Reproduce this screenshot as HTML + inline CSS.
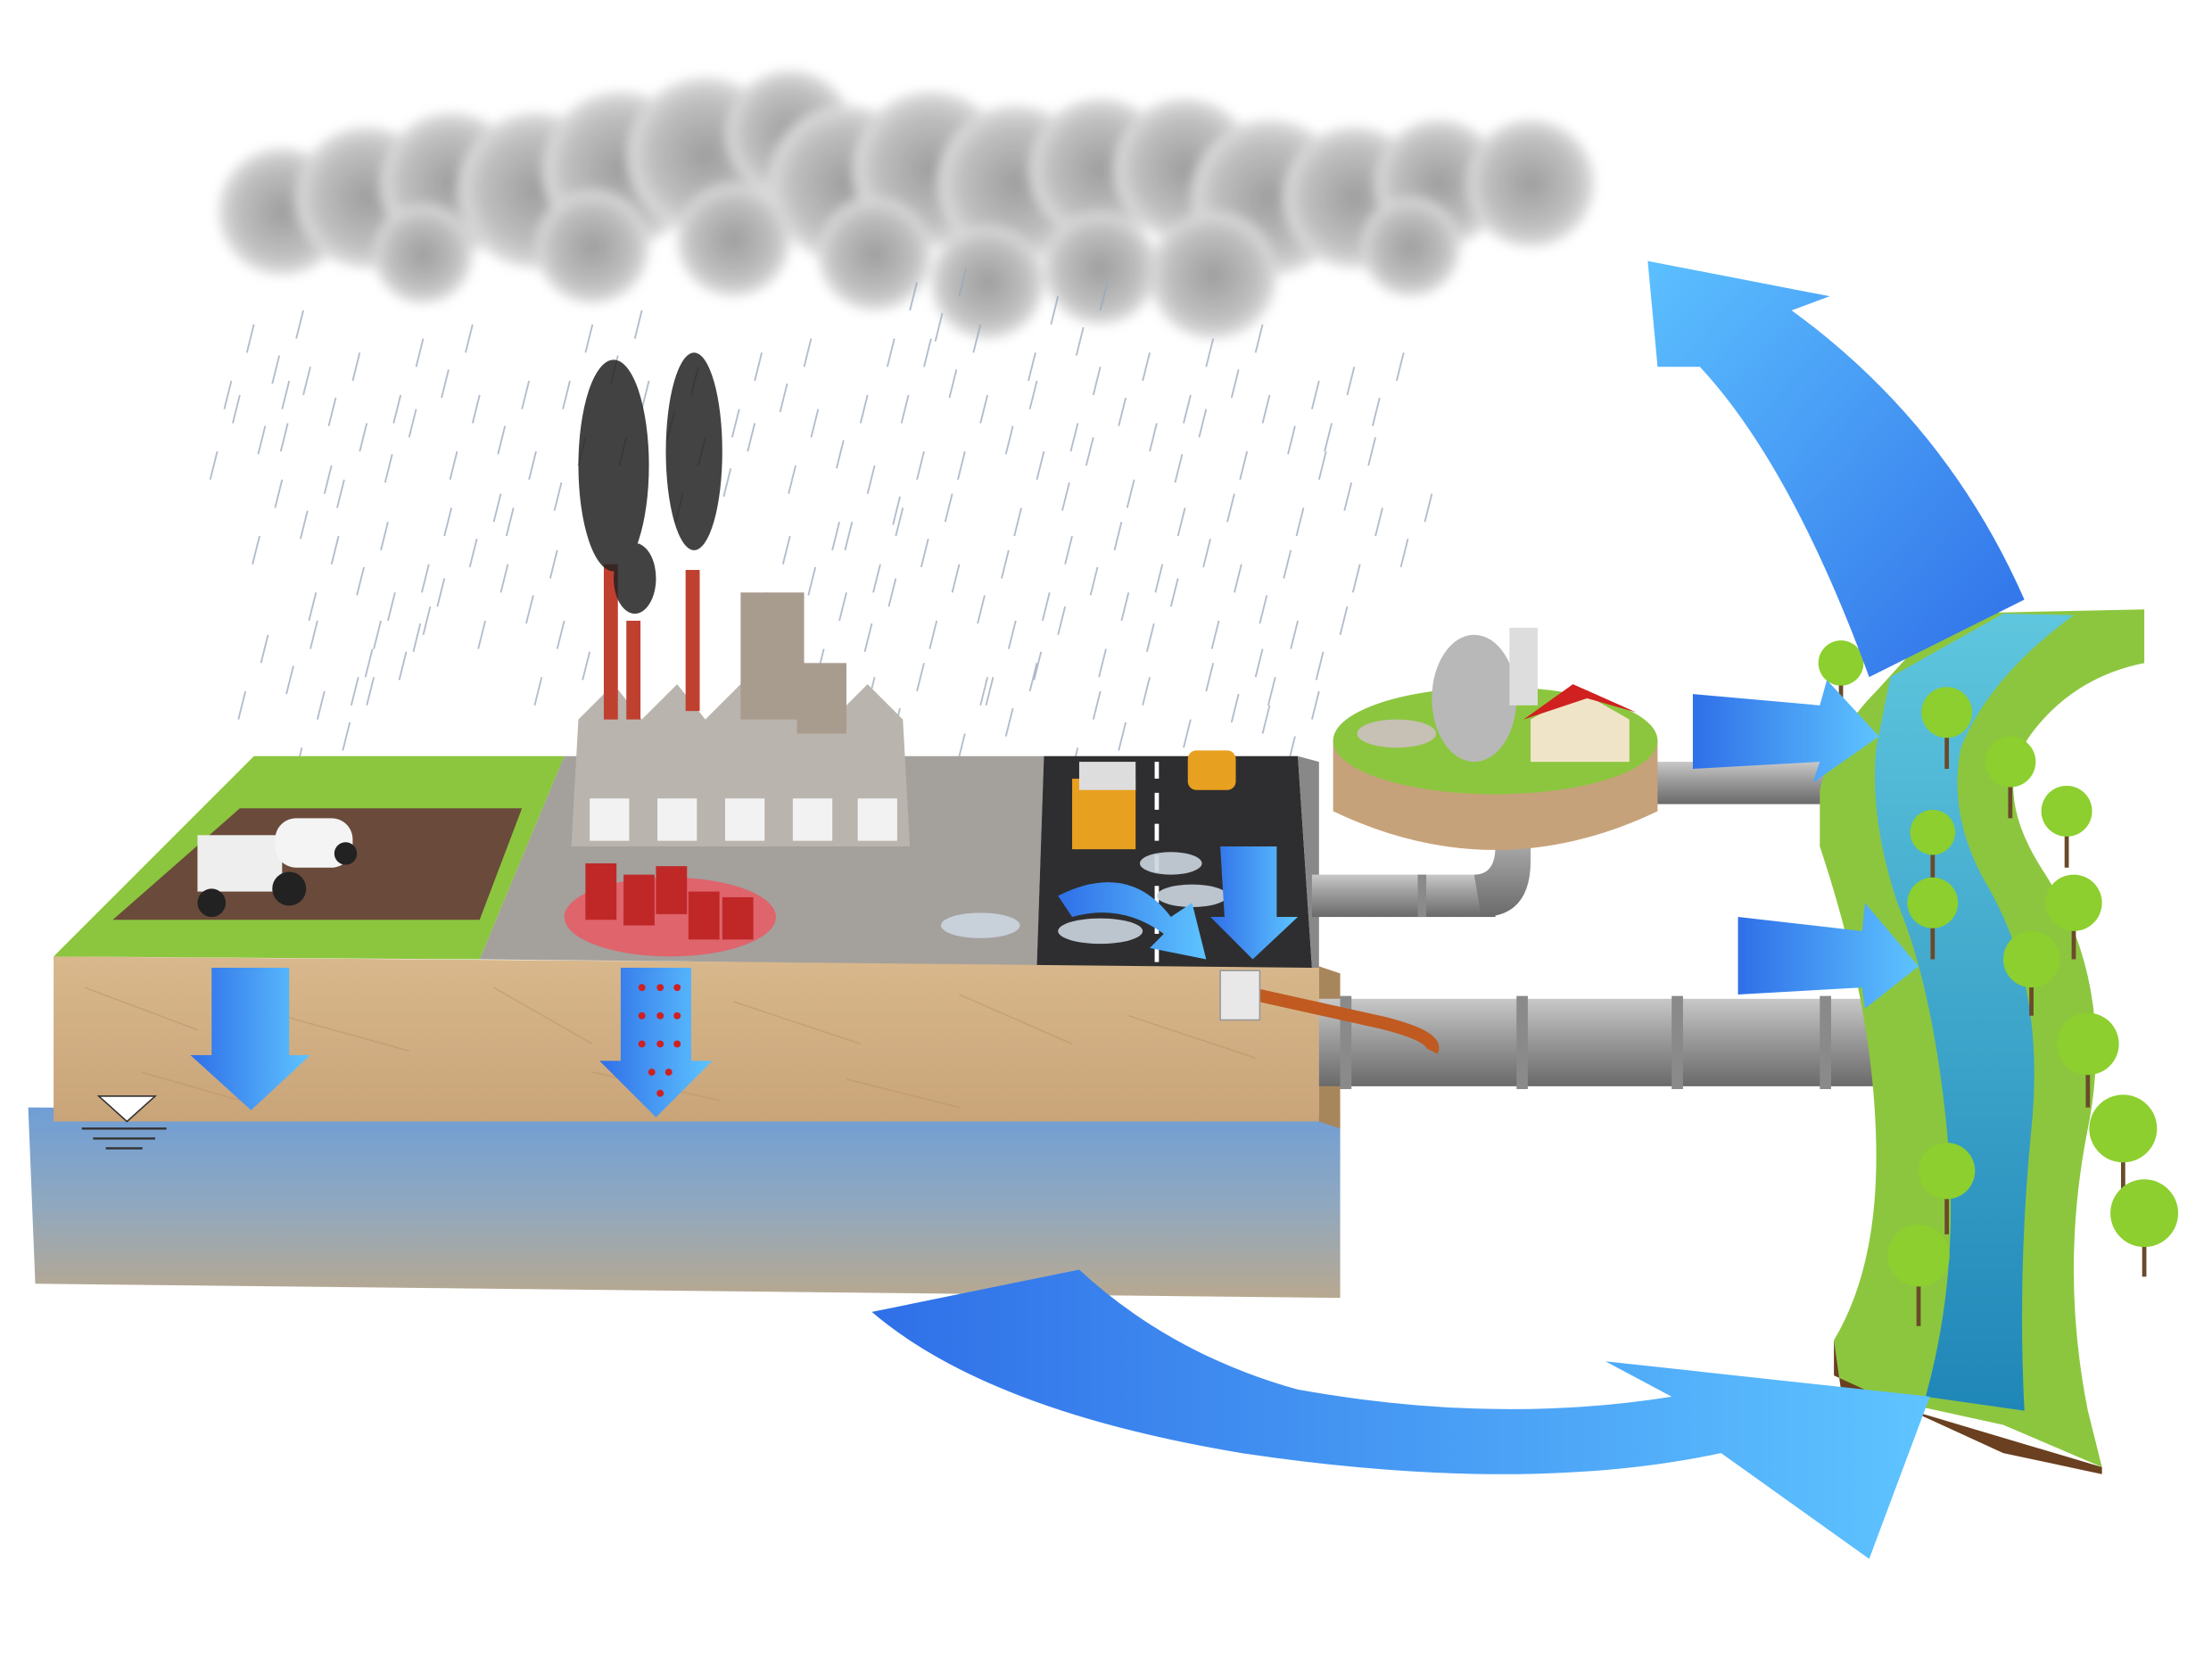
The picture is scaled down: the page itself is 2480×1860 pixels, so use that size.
<!DOCTYPE html>
<html><head><meta charset="utf-8"><style>
html,body{margin:0;padding:0;background:#fff;width:2480px;height:1860px;overflow:hidden}
svg{display:block}
</style></head><body>
<svg width="2480" height="1860" viewBox="0 0 1568 1176" xmlns="http://www.w3.org/2000/svg">
<defs>
<linearGradient id="arr" x1="0" y1="0" x2="1" y2="1"><stop offset="0" stop-color="#5cc0ff"/><stop offset="1" stop-color="#2f6fe8"/></linearGradient>
<linearGradient id="arr2" x1="0" y1="0" x2="1" y2="0"><stop offset="0" stop-color="#2f6fe8"/><stop offset="1" stop-color="#5ec4ff"/></linearGradient>
<linearGradient id="soil" x1="0" y1="0" x2="0" y2="1"><stop offset="0" stop-color="#d8b88c"/><stop offset="1" stop-color="#c9a479"/></linearGradient>
<linearGradient id="water" x1="0" y1="0" x2="0" y2="1"><stop offset="0" stop-color="#6f9ed6"/><stop offset="0.5" stop-color="#8fa8c0"/><stop offset="1" stop-color="#b8a890"/></linearGradient>
<linearGradient id="pipe" x1="0" y1="0" x2="0" y2="1"><stop offset="0" stop-color="#c8c8c8"/><stop offset="0.4" stop-color="#a0a0a0"/><stop offset="1" stop-color="#6a6a6a"/></linearGradient>
<radialGradient id="cl" cx="0.5" cy="0.5" r="0.5"><stop offset="0" stop-color="#8e8e8e"/><stop offset="0.7" stop-color="#b4b4b4"/><stop offset="1" stop-color="#d8d8d8"/></radialGradient>
<linearGradient id="riv" x1="0" y1="0" x2="0" y2="1"><stop offset="0" stop-color="#5fc6de"/><stop offset="1" stop-color="#1f86b8"/></linearGradient>
<filter id="blur"><feGaussianBlur stdDeviation="4"/></filter>
</defs>

<!-- cloud -->
<g fill="url(#cl)" opacity="0.85" filter="url(#blur)">
<circle cx="200" cy="150" r="45"/><circle cx="260" cy="140" r="50"/><circle cx="320" cy="130" r="50"/><circle cx="380" cy="135" r="55"/>
<circle cx="440" cy="120" r="55"/><circle cx="500" cy="110" r="55"/><circle cx="560" cy="95" r="45"/><circle cx="600" cy="130" r="55"/>
<circle cx="660" cy="120" r="55"/><circle cx="720" cy="130" r="55"/><circle cx="780" cy="120" r="50"/><circle cx="840" cy="120" r="50"/>
<circle cx="900" cy="140" r="55"/><circle cx="960" cy="140" r="50"/><circle cx="1020" cy="130" r="45"/><circle cx="1085" cy="130" r="45"/>
<circle cx="700" cy="200" r="40"/><circle cx="860" cy="195" r="45"/><circle cx="780" cy="190" r="40"/><circle cx="620" cy="180" r="40"/>
<circle cx="300" cy="180" r="35"/><circle cx="420" cy="175" r="40"/><circle cx="520" cy="170" r="40"/><circle cx="1000" cy="175" r="35"/>
</g>
<!-- rain -->
<g stroke="#9aa8ba" stroke-width="1.2" opacity="0.75" id="rain">
<path d="M180 230l-5 20M220 260l-5 20M260 300l-5 20M300 240l-5 20M340 280l-5 20M380 320l-5 20M420 230l-5 20M460 270l-5 20M500 310l-5 20M540 250l-5 20M580 290l-5 20M620 330l-5 20M660 240l-5 20M700 280l-5 20M740 320l-5 20M780 260l-5 20M820 300l-5 20M860 240l-5 20M900 280l-5 20M940 320l-5 20M200 340l-5 20M240 380l-5 20M280 420l-5 20M320 360l-5 20M360 400l-5 20M400 440l-5 20M560 380l-5 20M600 420l-5 20M640 360l-5 20M680 400l-5 20M720 440l-5 20M760 380l-5 20M800 420l-5 20M840 360l-5 20M880 400l-5 20M920 440l-5 20M190 450l-5 20M230 490l-5 20M270 440l-5 20M620 480l-5 20M700 480l-5 20M780 490l-5 20M860 470l-5 20M900 500l-5 20M170 280l-5 20M960 260l-5 20M980 360l-5 20M650 200l-5 20M750 210l-5 20"/>
</g>
<use href="#rain" x="18" y="22"/>
<use href="#rain" x="-16" y="40"/>
<use href="#rain" x="35" y="-10"/>

<!-- water layer -->
<path d="M20 785 L950 790 L950 920 L25 910 Z" fill="url(#water)"/>
<!-- soil -->
<path d="M38 678 L935 685 L935 795 L38 795 Z" fill="url(#soil)"/>
<g stroke="#b89468" stroke-width="1" opacity="0.5"><path d="M60 700l80 30M200 720l90 25M350 700l70 40M520 710l90 30M680 705l80 35M800 720l90 30M100 760l70 20M420 760l90 20M600 765l80 20"/></g>
<path d="M935 685 L950 690 L950 800 L935 795Z" fill="#a8865c"/>
<!-- top surfaces -->
<path d="M38 678 L180 536 L400 536 L340 680 Z" fill="#8cc63f"/>
<path d="M80 652 L170 573 L370 573 L340 652 Z" fill="#6a4a3a"/>
<path d="M340 680 L400 536 L740 536 L735 684 Z" fill="#a4a09c"/>
<path d="M735 684 L740 536 L920 536 L930 686 Z" fill="#2e2e30"/>
<path d="M820 540 L820 682" stroke="#fff" stroke-width="3" stroke-dasharray="12 10"/>
<path d="M920 536 L935 540 L935 686 L930 686Z" fill="#888"/>
<!-- factory -->
<path d="M405 600 L410 510 L435 485 L455 510 L480 485 L500 510 L525 485 L545 510 L570 485 L590 510 L615 485 L640 510 L645 600 Z" fill="#b9b4ad"/>
<g fill="#f2f2f2"><rect x="418" y="566" width="28" height="30"/><rect x="466" y="566" width="28" height="30"/><rect x="514" y="566" width="28" height="30"/><rect x="562" y="566" width="28" height="30"/><rect x="608" y="566" width="28" height="30"/></g>
<rect x="525" y="420" width="45" height="90" fill="#a89c8e"/>
<rect x="565" y="470" width="35" height="50" fill="#a89c8e"/>
<rect x="428" y="400" width="10" height="110" fill="#c04030"/><rect x="444" y="440" width="10" height="70" fill="#c04030"/><rect x="486" y="404" width="10" height="100" fill="#c04030"/>
<g fill="#222" opacity="0.85"><ellipse cx="435" cy="330" rx="25" ry="75"/><ellipse cx="492" cy="320" rx="20" ry="70"/><ellipse cx="450" cy="410" rx="15" ry="25"/></g>
<!-- barrels spill -->
<ellipse cx="475" cy="650" rx="75" ry="28" fill="#ee5560" opacity="0.8"/>
<g fill="#c02828"><rect x="415" y="612" width="22" height="40"/><rect x="442" y="620" width="22" height="36"/><rect x="465" y="614" width="22" height="34"/><rect x="488" y="632" width="22" height="34"/><rect x="512" y="636" width="22" height="30"/></g>
<!-- tractor -->
<rect x="140" y="592" width="60" height="40" fill="#eee"/><rect x="195" y="580" width="55" height="35" rx="15" fill="#f4f4f4"/>
<circle cx="150" cy="640" r="10" fill="#222"/><circle cx="205" cy="630" r="12" fill="#222"/><circle cx="245" cy="605" r="8" fill="#222"/>
<!-- truck & car -->
<rect x="760" y="552" width="45" height="50" fill="#e8a020"/><rect x="765" y="540" width="40" height="20" fill="#ddd"/>
<rect x="842" y="532" width="34" height="28" rx="6" fill="#e8a020"/>
<g fill="#ccd5e0" opacity="0.9"><ellipse cx="780" cy="660" rx="30" ry="9"/><ellipse cx="830" cy="612" rx="22" ry="8"/><ellipse cx="845" cy="635" rx="25" ry="8"/><ellipse cx="695" cy="656" rx="28" ry="9"/></g>

<!-- arrows down -->
<path d="M150 686 L205 686 L205 748 L220 748 L178 787 L135 748 L150 748 Z" fill="url(#arr2)"/>
<path d="M440 686 L490 686 L490 752 L505 752 L465 792 L425 752 L440 752 Z" fill="url(#arr2)"/>
<g fill="#d02020"><circle cx="455" cy="700" r="2.5"/><circle cx="468" cy="700" r="2.5"/><circle cx="480" cy="700" r="2.5"/><circle cx="455" cy="720" r="2.5"/><circle cx="468" cy="720" r="2.5"/><circle cx="480" cy="720" r="2.5"/><circle cx="455" cy="740" r="2.5"/><circle cx="468" cy="740" r="2.5"/><circle cx="480" cy="740" r="2.5"/><circle cx="462" cy="760" r="2.5"/><circle cx="474" cy="760" r="2.5"/><circle cx="468" cy="775" r="2.5"/></g>
<!-- water level symbol -->
<path d="M70 777 L110 777 L90 795 Z" fill="#fff" stroke="#333"/><path d="M58 800h60M66 807h44M75 814h26" stroke="#333" stroke-width="1.5"/>

<!-- road arrows -->
<path d="M750 635 Q800 610 830 650 L845 640 L855 680 L815 672 L825 662 Q795 640 760 650 Z" fill="url(#arr2)"/>
<path d="M865 600 L905 600 L905 650 L920 650 L888 680 L858 650 L868 650 Z" fill="url(#arr2)"/>

<!-- pipes -->
<rect x="930" y="620" width="130" height="30" fill="url(#pipe)"/>
<path d="M1045 620 Q1060 620 1060 600 L1060 575 L1085 575 L1085 610 Q1085 650 1050 650 Z" fill="url(#pipe)"/>
<rect x="935" y="708" width="400" height="62" fill="url(#pipe)"/>
<g fill="#8a8a8a"><rect x="950" y="706" width="8" height="66"/><rect x="1075" y="706" width="8" height="66"/><rect x="1185" y="706" width="8" height="66"/><rect x="1290" y="706" width="8" height="66"/><rect x="1005" y="620" width="6" height="30"/></g>
<path d="M890 705 L980 725 Q1020 735 1015 745" stroke="#c05a20" stroke-width="9" fill="none"/>
<rect x="865" y="688" width="28" height="35" fill="#e8e8e8" stroke="#999"/>
<rect x="1170" y="540" width="160" height="30" fill="url(#pipe)"/>

<!-- treatment plant -->
<path d="M945 525 L945 575 Q1060 630 1175 575 L1175 525 Z" fill="#c6a27a"/>
<ellipse cx="1060" cy="525" rx="115" ry="38" fill="#8cc63f"/>
<ellipse cx="990" cy="520" rx="28" ry="10" fill="#c6c0b5"/>
<ellipse cx="1045" cy="495" rx="30" ry="45" fill="#b8b8b8"/>
<rect x="1070" y="445" width="20" height="55" fill="#ddd"/>
<path d="M1085 510 L1085 540 L1155 540 L1155 510 L1120 490 Z" fill="#f0e4c8"/><path d="M1080 510 L1115 485 L1160 505 L1125 495Z" fill="#d02020"/>

<!-- river -->
<path d="M1290 560 Q1300 520 1330 490 L1380 435 L1520 432 L1520 470 Q1470 480 1440 520 Q1410 560 1450 620 Q1500 700 1480 800 Q1460 900 1480 1000 L1490 1040 L1420 1010 L1305 985 L1300 950 Q1330 900 1330 820 Q1330 720 1290 600 Z" fill="#8cc63f"/>
<path d="M1305 985 L1300 950 L1300 975 L1420 1030 L1490 1045 L1490 1040Z" fill="#6a4020"/>
<path d="M1340 480 L1420 435 L1470 436 Q1410 480 1390 530 Q1380 580 1410 630 Q1450 700 1440 800 Q1430 900 1435 1000 L1365 990 Q1390 900 1380 800 Q1370 700 1345 640 Q1325 580 1330 530 Z" fill="url(#riv)"/>
<g stroke="#6a4a2a" stroke-width="3"><path d="M1305 480v25M1380 515v30M1425 550v30M1465 585v30M1370 600v25M1470 650v30M1440 690v30M1370 650v30M1480 750v35M1505 810v35M1380 840v35M1520 870v35M1360 900v40"/></g>
<g fill="#8ccf2e"><circle cx="1305" cy="470" r="16"/><circle cx="1380" cy="505" r="18"/><circle cx="1425" cy="540" r="18"/><circle cx="1465" cy="575" r="18"/><circle cx="1370" cy="590" r="16"/><circle cx="1470" cy="640" r="20"/><circle cx="1440" cy="680" r="20"/><circle cx="1370" cy="640" r="18"/><circle cx="1480" cy="740" r="22"/><circle cx="1505" cy="800" r="24"/><circle cx="1380" cy="830" r="20"/><circle cx="1520" cy="860" r="24"/><circle cx="1360" cy="890" r="22"/></g>

<!-- big blue arrows -->
<path d="M1325 480 Q1270 330 1205 260 L1175 260 L1168 185 L1297 210 L1270 220 Q1380 300 1435 425 Z" fill="url(#arr)"/>
<path d="M1200 492 L1290 500 L1295 482 L1332 522 L1285 555 L1290 540 L1200 545 Z" fill="url(#arr2)"/>
<path d="M1232 650 L1320 660 L1322 640 L1360 685 L1322 715 L1320 700 L1232 705 Z" fill="url(#arr2)"/>
<path d="M618 930 Q700 1000 880 1030 Q1080 1060 1220 1030 L1325 1105 L1368 990 L1138 965 L1185 990 Q1060 1010 920 985 Q830 960 765 900 Z" fill="url(#arr2)"/>
</svg>
</body></html>
